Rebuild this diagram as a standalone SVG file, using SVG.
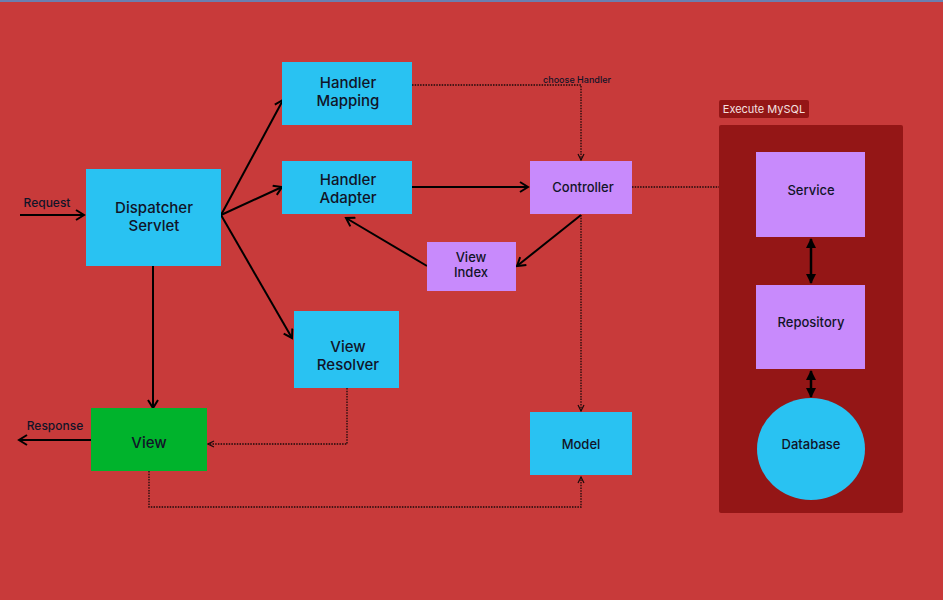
<svg xmlns="http://www.w3.org/2000/svg" width="943" height="600" viewBox="0 0 943 600">
<defs>
<style>
.t{font-family:Inter,"Liberation Sans",sans-serif;fill:#111428;text-anchor:middle;font-weight:500}
.big{font-size:15px}
.mid{font-size:13px}
.sm{font-size:12px}
.blue{fill:#29C2F2}
.purple{fill:#C88AFC}
.solid{stroke:#000;stroke-width:2;fill:none}
.dot{stroke:#1a0a0a;stroke-width:1.3;stroke-dasharray:1.5 1.2;fill:none}
.dbl{stroke:#000;stroke-width:2.5;fill:none}
</style>
<marker id="open" viewBox="0 0 12 12" refX="10" refY="6" markerWidth="12" markerHeight="12" markerUnits="userSpaceOnUse" orient="auto">
<path d="M2,1 L10,6 L2,11" fill="none" stroke="#000" stroke-width="2"/>
</marker>
<marker id="openS" viewBox="0 0 8 8" refX="7" refY="4" markerWidth="8" markerHeight="8" markerUnits="userSpaceOnUse" orient="auto">
<path d="M1,1 L7,4 L1,7" fill="none" stroke="#1a0a0a" stroke-width="1.2"/>
</marker>
<marker id="fill" viewBox="0 0 10 10" refX="9" refY="5" markerWidth="10" markerHeight="10" markerUnits="userSpaceOnUse" orient="auto-start-reverse">
<path d="M0,0 L10,5 L0,10 z" fill="#000"/>
</marker>
</defs>
<rect x="0" y="0" width="943" height="600" fill="#C83A3A"/>
<rect x="0" y="0" width="943" height="2" fill="#6A7FB0"/>

<g id="group-mysql">
<rect x="719" y="125" width="184" height="388" rx="2" fill="#941616"/>
<rect x="719" y="100" width="90" height="18" rx="2" fill="#941616"/>
<text x="764" y="113" class="t" style="font-size:11px;fill:#F4E0E0;font-weight:400">Execute MySQL</text>
</g>

<g id="connectors">
<line x1="20" y1="215" x2="84" y2="215" class="solid" marker-end="url(#open)"/>
<text x="47" y="207" class="t sm">Request</text>
<line x1="221" y1="215" x2="283" y2="100" class="solid" marker-end="url(#open)"/>
<line x1="221" y1="215" x2="282" y2="187" class="solid" marker-end="url(#open)"/>
<line x1="221" y1="215" x2="292" y2="338" class="solid" marker-end="url(#open)"/>
<line x1="153" y1="266" x2="153" y2="408" class="solid" marker-end="url(#open)"/>
<line x1="91" y1="440" x2="19" y2="440" class="solid" marker-end="url(#open)"/>
<text x="55" y="430" class="t sm">Response</text>
<polyline points="412,85 581,85 581,160" class="dot" marker-end="url(#openS)"/>
<text x="577" y="83" class="t" style="font-size:9px">choose Handler</text>
<line x1="412" y1="187" x2="528" y2="187" class="solid" marker-end="url(#open)"/>
<line x1="581" y1="215" x2="517" y2="266" class="solid" marker-end="url(#open)"/>
<line x1="427" y1="266" x2="346" y2="218" class="solid" marker-end="url(#open)"/>
<line x1="581" y1="215" x2="581" y2="411" class="dot" marker-end="url(#openS)"/>
<line x1="632" y1="187" x2="719" y2="187" class="dot"/>
<polyline points="347,388 347,444 208,444" class="dot" marker-end="url(#openS)"/>
<polyline points="149,471 149,507 581,507 581,477" class="dot" marker-end="url(#openS)"/>
<line x1="811" y1="239" x2="811" y2="283" class="dbl" marker-start="url(#fill)" marker-end="url(#fill)"/>
<line x1="811" y1="371" x2="811" y2="397" class="dbl" marker-start="url(#fill)" marker-end="url(#fill)"/>
</g>

<g id="dispatcher-servlet">
<rect x="86" y="169" width="135" height="97" class="blue"/>
<text x="154" y="213" class="t big">Dispatcher</text>
<text x="154" y="231" class="t big">Servlet</text>
</g>
<g id="handler-mapping">
<rect x="282" y="62" width="130" height="63" class="blue"/>
<text x="348" y="88" class="t big">Handler</text>
<text x="348" y="106" class="t big">Mapping</text>
</g>
<g id="handler-adapter">
<rect x="282" y="161" width="130" height="53" class="blue"/>
<text x="348" y="185" class="t big">Handler</text>
<text x="348" y="203" class="t big">Adapter</text>
</g>
<g id="controller">
<rect x="530" y="161" width="102" height="53" class="purple"/>
<text x="583" y="192" class="t mid">Controller</text>
</g>
<g id="view-index">
<rect x="427" y="242" width="89" height="49" class="purple"/>
<text x="471" y="262" class="t mid">View</text>
<text x="471" y="277" class="t mid">Index</text>
</g>
<g id="view-resolver">
<rect x="294" y="311" width="105" height="77" class="blue"/>
<text x="348" y="352" class="t big">View</text>
<text x="348" y="370" class="t big">Resolver</text>
</g>
<g id="view">
<rect x="91" y="408" width="116" height="63" fill="#00B32C"/>
<text x="149" y="448" class="t big">View</text>
</g>
<g id="model">
<rect x="530" y="412" width="102" height="63" class="blue"/>
<text x="581" y="449" class="t mid">Model</text>
</g>
<g id="service">
<rect x="756" y="152" width="109" height="85" class="purple"/>
<text x="811" y="195" class="t mid">Service</text>
</g>
<g id="repository">
<rect x="756" y="285" width="109" height="84" class="purple"/>
<text x="811" y="327" class="t mid">Repository</text>
</g>
<g id="database">
<ellipse cx="811" cy="449" rx="54" ry="51" class="blue"/>
<text x="811" y="449" class="t mid">Database</text>
</g>
</svg>
